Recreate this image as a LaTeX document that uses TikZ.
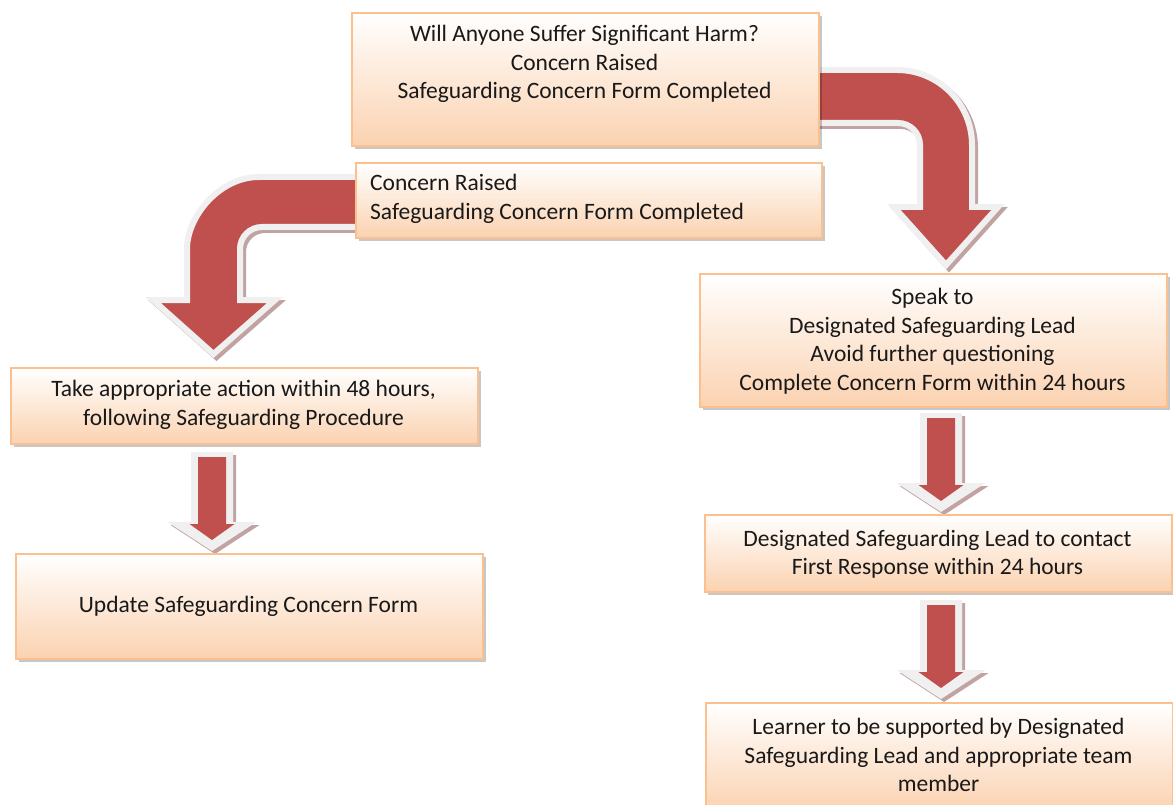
\documentclass[tikz,border=0pt]{standalone}
\usepackage{fontspec}
\setmainfont{Carlito}
\usetikzlibrary{shadows}
\definecolor{arrowred}{HTML}{C0504D}
\definecolor{arrowedge}{HTML}{F0F0F0}
\definecolor{arrowshadow}{HTML}{C2A3A3}
\definecolor{boxedge}{HTML}{FAC090}
\definecolor{boxfill}{HTML}{FBD2B0}
\newcommand\dnArrow[2]{%
  \fill[arrowshadow] ({#1-21+3},{#2+3}) -- ({#1+21+3},{#2+3}) -- ({#1+21+3},{#2+73}) -- ({#1+44.5+3},{#2+73}) -- ({#1+3},{#2+102}) -- ({#1-44.5+3},{#2+73}) -- ({#1-21+3},{#2+73}) -- cycle;
  \fill[arrowedge] ({#1-21},{#2}) -- ({#1+21},{#2}) -- ({#1+21},{#2+70}) -- ({#1+44.5},{#2+70}) -- ({#1},{#2+99}) -- ({#1-44.5},{#2+70}) -- ({#1-21},{#2+70}) -- cycle;
  \fill[arrowred] ({#1-14},{#2+5}) -- ({#1+14},{#2+5}) -- ({#1+14},{#2+72}) -- ({#1+22.5},{#2+72}) -- ({#1},{#2+88}) -- ({#1-22.5},{#2+72}) -- ({#1-14},{#2+72}) -- cycle;
}
\def\rightCurve{(780,70) -- (897,70) .. controls (938.4,70) and (972,103.6) .. (972,145) -- (972,207) -- (998,207) -- (946,265) -- (894,207) -- (920,207) -- (920,145) .. controls (920,132.8) and (910.2,123) .. (898,123) -- (780,123) -- cycle}
\def\leftCurve{(420,177) -- (259,177) .. controls (219.2,177) and (187,216.8) .. (187,249) -- (187,300) -- (153,300) -- (213.5,354) -- (275,300) -- (240,300) -- (240,249) .. controls (240,236.8) and (249.8,227) .. (262,227) -- (420,227) -- cycle}
\tikzset{
  box/.style={draw=boxedge, line width=1.8pt, top color=white, bottom color=boxfill,
    anchor=north west, inner sep=0pt,
    drop shadow={shadow xshift=3pt, shadow yshift=-3pt, fill=black, opacity=0.22}},
  txt/.style={font=\fontsize{23.5}{28.5}\selectfont, text=black!90, inner sep=0pt},
  curveshadow/.style={fill=arrowshadow, draw=arrowshadow, line width=6pt, line join=miter},
  curvearrow/.style={fill=arrowred, draw=arrowedge, line width=6pt, line join=miter},
}
\begin{document}
\begin{tikzpicture}[x=1pt, y=-1pt]
\useasboundingbox[fill=white] (0,0) rectangle (1173,805);
% curved arrows
\begin{scope}[xshift=3pt, yshift=-3pt]
  \filldraw[curveshadow] \rightCurve;
  \filldraw[curveshadow] \leftCurve;
\end{scope}
\filldraw[curvearrow] \rightCurve;
\filldraw[curvearrow] \leftCurve;
% straight arrows
\dnArrow{212}{452}
\dnArrow{941}{413}
\dnArrow{941}{600}
% boxes
\node[box, minimum width=467pt, minimum height=133pt] (b1) at (351,12) {};
\node[box, minimum width=466pt, minimum height=75pt] (b2) at (355,162) {};
\node[box, minimum width=467pt, minimum height=133pt] (b3) at (699,273) {};
\node[box, minimum width=467pt, minimum height=76pt] (b4) at (10,367) {};
\node[box, minimum width=467pt, minimum height=105pt] (b5) at (15,553) {};
\node[box, minimum width=467pt, minimum height=77pt] (b6) at (704,514) {};
\node[box, minimum width=467pt, minimum height=110pt] (b7) at (705,702) {};
% texts
\node[txt, align=center] (t1) at (584.5,64) {Will Anyone Suffer Significant Harm?\\Concern Raised\\Safeguarding Concern Form Completed};
\node[txt, align=left, anchor=west] (t2) at (370,199) {Concern Raised\\Safeguarding Concern Form Completed};
\node[txt, align=center] (t3) at (932.5,341) {Speak to\\Designated Safeguarding Lead\\Avoid further questioning\\Complete Concern Form within 24 hours};
\node[txt, align=center] (t4) at (243.5,405) {Take appropriate action within 48 hours,\\following Safeguarding Procedure};
\node[txt, align=center] (t5) at (248.5,606) {Update Safeguarding Concern Form};
\node[txt, align=center] (t6) at (937.5,554) {Designated Safeguarding Lead to contact\\First Response within 24 hours};
\node[txt, align=center] (t7) at (938.5,755) {Learner to be supported by Designated\\Safeguarding Lead and appropriate team\\member};
\end{tikzpicture}
\end{document}
